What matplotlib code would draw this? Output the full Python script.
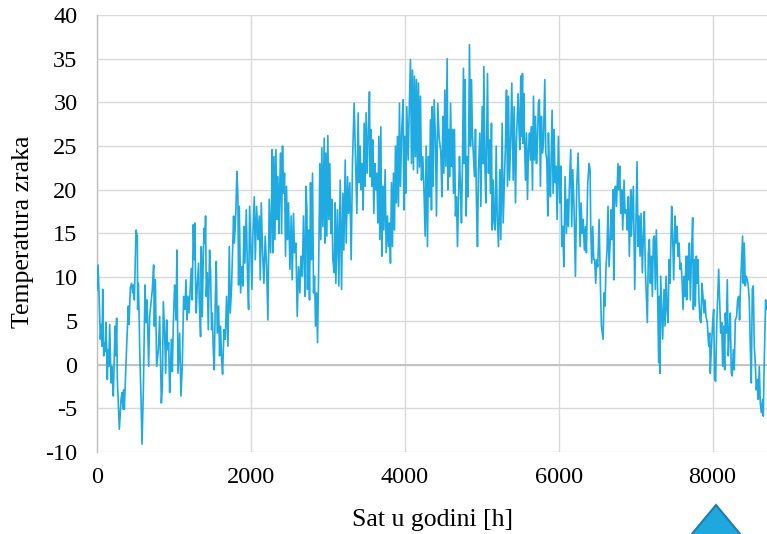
import matplotlib
matplotlib.use('Agg')
import matplotlib.pyplot as plt
from matplotlib.patches import Polygon


## Hourly air temperature over the year, kept as (hour, deg C) turning points

seg_jan_feb = [(0, 8.5), (13, 11.4), (26, 8.2), (43, 2.9), (56, 4.6), (65, 2.1), (74, 8.6), (87, 1.0),
               (100, 2.5), (108, 1.5), (117, 4.8), (134, -1.7), (143, 1.7), (152, -0.2), (165, 4.6),
               (182, -2.1), (191, -0.2), (199, -1.7), (212, -3.6), (234, 4.4), (242, 1.0), (255, 5.3),
               (264, -1.7), (290, -7.4), (312, -4.0), (325, -3.2), (338, -5.1), (346, -2.9), (355, -5.1),
               (385, 2.1), (407, 6.7), (416, 4.6), (433, 8.8), (450, 9.3), (463, 8.2), (476, 9.1),
               (485, 7.4), (507, 15.4), (524, 14.7), (528, 6.3), (537, 9.3), (546, 6.3), (554, 2.1),
               (572, -4.0), (585, -9.1), (602, -3.0), (624, 9.1), (636, 4.8), (650, 7.4), (671, -0.2),
               (684, 5.5), (701, 7.0), (719, 8.6), (736, 11.4), (745, 4.4), (758, 9.7), (775, -0.2),
               (797, 1.7), (814, 5.5), (836, -4.4), (849, -2.5), (862, 7.2), (879, 3.6), (892, -1.0),
               (905, 5.1), (918, 1.7), (931, 2.5), (944, -3.2), (953, -1.0), (966, 2.9), (979, -0.8),
               (992, 4.8), (1009, 9.1), (1018, 7.8), (1026, 5.1), (1039, 13.1), (1052, -1.0),
               (1074, 3.6), (1091, -3.6), (1108, -0.2), (1126, 7.8)]

seg_feb_mar = [(1143, 6.3), (1156, 9.7), (1169, 5.1), (1182, 7.8), (1195, 5.9), (1208, 8.2), (1225, 11.0),
               (1238, 7.4), (1251, 16.0), (1264, 12.0), (1273, 16.2), (1282, 8.2), (1290, 5.9),
               (1303, 9.1), (1320, 11.6), (1329, 7.4), (1346, 3.2), (1355, 13.5), (1368, 5.5),
               (1381, 12.4), (1394, 15.6), (1403, 13.9), (1411, 17.0), (1420, 7.8), (1433, 10.5),
               (1446, 4.0), (1463, 13.1), (1476, 10.5), (1489, 4.0), (1498, 5.9), (1511, 1.7),
               (1524, -0.6), (1537, 7.4), (1550, 11.8), (1563, 3.6), (1580, 6.7), (1593, 1.0),
               (1606, 4.4), (1619, 0.6), (1632, -1.1), (1650, 4.0), (1667, 2.9), (1684, 7.8),
               (1702, 2.1), (1719, 13.5), (1732, 5.9), (1749, 9.0), (1762, 13.1), (1775, 17.0),
               (1784, 13.9), (1797, 15.8), (1805, 17.7), (1818, 22.1), (1831, 19.2), (1840, 9.1),
               (1849, 18.1), (1866, 8.2), (1883, 11.2), (1896, 9.0), (1909, 15.8), (1922, 11.6),
               (1940, 17.7), (1957, 9.7), (1970, 6.3), (1983, 18.1), (2000, 13.1), (2013, 8.6),
               (2026, 15.0), (2044, 19.2), (2057, 12.0), (2074, 18.1), (2091, 14.3), (2109, 17.0),
               (2122, 9.7), (2135, 18.5), (2152, 12.8), (2169, 9.3), (2186, 14.7), (2204, 11.2),
               (2221, 5.1), (2238, 18.9)]

seg_apr_may = [(2256, 12.8), (2269, 18.9), (2277, 24.6), (2286, 12.8), (2299, 23.8), (2312, 14.3),
               (2325, 24.6), (2338, 16.6), (2351, 21.5), (2364, 15.0), (2373, 19.6), (2386, 24.2),
               (2399, 15.0), (2411, 25.0), (2424, 19.6), (2437, 21.9), (2450, 12.4), (2463, 20.4),
               (2476, 14.3), (2489, 18.5), (2507, 10.9), (2524, 17.0), (2537, 9.7), (2554, 17.3),
               (2567, 12.8), (2585, 13.9), (2602, 5.5), (2619, 11.2), (2637, 8.2), (2650, 12.4),
               (2667, 10.1), (2684, 17.0), (2697, 10.5), (2706, 7.8), (2715, 20.4), (2728, 17.7),
               (2736, 8.6), (2749, 15.4), (2762, 7.4), (2775, 20.8), (2788, 12.0), (2801, 21.9),
               (2814, 8.2), (2827, 10.1), (2840, 4.4), (2853, 8.2), (2866, 2.5), (2879, 9.7),
               (2896, 23.0), (2909, 14.3), (2922, 24.8), (2935, 15.8), (2953, 25.9), (2961, 13.9),
               (2974, 24.2), (2987, 14.7), (3000, 26.2), (3013, 16.6), (3026, 23.0), (3039, 15.0),
               (3052, 18.9), (3065, 12.0), (3083, 10.5), (3096, 18.5), (3104, 9.3), (3126, 17.7),
               (3143, 9.0), (3161, 21.1), (3178, 8.6), (3195, 19.6), (3208, 13.1), (3226, 23.4),
               (3239, 13.9), (3256, 21.5), (3269, 17.3), (3286, 20.8), (3303, 12.0), (3321, 23.4),
               (3342, 29.9)]

seg_may_jul = [(3364, 21.9), (3377, 17.3), (3394, 28.8), (3407, 20.8), (3420, 25.0), (3433, 20.0),
               (3446, 23.0), (3459, 17.7), (3472, 27.6), (3485, 20.4), (3498, 28.8), (3511, 21.9),
               (3528, 26.9), (3541, 31.2), (3550, 21.5), (3563, 26.9), (3572, 20.4), (3585, 25.7),
               (3598, 17.3), (3611, 23.0), (3624, 20.0), (3637, 21.9), (3650, 16.2), (3663, 26.1),
               (3676, 14.3), (3689, 27.2), (3702, 12.4), (3715, 20.4), (3728, 15.4), (3745, 22.3),
               (3758, 12.8), (3775, 17.0), (3788, 13.5), (3801, 16.2), (3814, 11.6), (3827, 20.8),
               (3840, 13.5), (3853, 21.9), (3866, 15.4), (3879, 25.0), (3892, 18.5), (3905, 26.1),
               (3918, 18.1), (3931, 29.9), (3944, 20.4), (3961, 26.9), (3979, 30.3), (3987, 17.7),
               (4000, 26.1), (4013, 19.6), (4026, 29.5), (4044, 23.4), (4057, 28.8), (4074, 34.9),
               (4087, 23.0), (4100, 33.7), (4113, 22.3), (4126, 33.0), (4139, 23.8), (4152, 32.6),
               (4165, 21.9), (4178, 32.2), (4191, 22.6), (4204, 30.7), (4217, 21.1), (4234, 23.8),
               (4247, 20.8), (4265, 14.7), (4278, 25.0), (4295, 13.5), (4308, 23.8), (4321, 19.2),
               (4334, 28.0), (4347, 17.7), (4356, 29.5), (4369, 20.4), (4382, 30.3), (4399, 25.7),
               (4412, 17.0), (4429, 29.9), (4446, 26.1)]

seg_jul_aug = [(4469, 24.2), (4482, 19.2), (4495, 28.4), (4508, 21.9), (4521, 31.4), (4534, 22.7),
               (4551, 35.0), (4560, 20.0), (4573, 26.9), (4582, 21.5), (4595, 29.9), (4608, 22.7),
               (4620, 26.9), (4633, 19.6), (4646, 26.9), (4659, 17.0), (4672, 19.2), (4685, 13.5),
               (4698, 18.5), (4711, 23.8), (4724, 20.4), (4737, 16.2), (4750, 23.0), (4763, 33.9),
               (4772, 23.0), (4785, 32.6), (4798, 17.0), (4811, 23.8), (4824, 19.2), (4841, 36.6),
               (4854, 25.0), (4867, 32.6), (4880, 26.1), (4893, 23.8), (4906, 21.5), (4919, 26.9),
               (4932, 18.5), (4945, 13.5), (4958, 22.3), (4976, 26.5), (4989, 18.1), (5006, 29.5),
               (5019, 23.0), (5028, 34.1), (5041, 23.0), (5053, 18.5), (5066, 26.9), (5075, 33.3),
               (5088, 21.9), (5101, 25.7), (5114, 19.6), (5127, 27.6), (5136, 15.4), (5149, 21.1),
               (5162, 16.2), (5175, 15.4), (5188, 25.0), (5201, 17.0), (5218, 13.5), (5235, 22.3),
               (5248, 14.3), (5266, 27.6), (5279, 16.2), (5296, 21.5), (5309, 25.3), (5322, 31.4),
               (5335, 20.4), (5348, 30.7), (5361, 21.1), (5378, 26.1), (5391, 32.2), (5409, 21.1),
               (5422, 29.5), (5439, 18.5), (5452, 25.7), (5473, 31.0), (5487, 26.5)]

seg_aug_oct = [(5495, 24.6), (5508, 33.0), (5517, 26.1), (5530, 33.3), (5538, 25.3), (5547, 31.0),
               (5556, 25.7), (5569, 21.1), (5582, 26.5), (5595, 18.9), (5608, 24.6), (5621, 26.5),
               (5634, 23.4), (5647, 27.2), (5660, 20.0), (5673, 30.7), (5686, 23.4), (5699, 28.4),
               (5712, 23.0), (5724, 25.3), (5737, 29.9), (5750, 30.3), (5763, 20.4), (5776, 28.4),
               (5789, 24.2), (5802, 25.3), (5820, 32.6), (5833, 24.2), (5846, 23.4), (5859, 17.0),
               (5867, 26.5), (5880, 21.9), (5893, 19.2), (5915, 29.1), (5928, 19.6), (5941, 26.9),
               (5954, 20.8), (5967, 22.7), (5980, 16.6), (5997, 26.1), (6015, 18.5), (6028, 22.7),
               (6041, 13.5), (6054, 15.8), (6067, 11.2), (6084, 21.5), (6101, 15.0), (6114, 18.9),
               (6127, 15.8), (6140, 20.4), (6157, 24.6), (6170, 15.8), (6183, 22.3), (6201, 17.7),
               (6218, 10.1), (6235, 20.4), (6253, 24.2), (6266, 18.9), (6279, 13.5), (6292, 18.5),
               (6305, 15.0), (6318, 16.6), (6335, 13.1), (6348, 15.8), (6361, 12.8), (6378, 20.8),
               (6396, 23.0), (6409, 22.3), (6417, 15.8), (6430, 11.6), (6443, 15.8), (6456, 12.0),
               (6469, 12.0), (6482, 9.3), (6495, 12.0), (6508, 11.2), (6526, 16.6), (6543, 9.0),
               (6556, 4.4), (6578, 2.9), (6590, 8.2), (6603, 6.7), (6616, 11.2), (6629, 13.1),
               (6642, 18.1), (6655, 11.2)]

seg_oct_nov = [(6673, 14.7), (6681, 17.7), (6694, 14.3), (6707, 20.0), (6716, 9.7), (6725, 19.2),
               (6738, 20.4), (6751, 18.1), (6772, 23.0), (6781, 20.0), (6794, 22.7), (6807, 17.3),
               (6820, 20.0), (6833, 15.4), (6850, 21.1), (6863, 17.3), (6880, 17.7), (6893, 15.4),
               (6906, 19.2), (6919, 12.4), (6937, 20.0), (6945, 14.7), (6971, 20.4), (6989, 8.6),
               (7006, 17.0), (7019, 23.2), (7032, 13.5), (7045, 17.0), (7058, 12.4), (7071, 17.3),
               (7088, 10.5), (7101, 14.7), (7114, 17.5), (7127, 10.9), (7140, 7.8), (7153, 4.8),
               (7166, 12.8), (7179, 14.3), (7192, 9.3), (7205, 12.4), (7218, 7.8), (7231, 14.3),
               (7244, 14.7), (7257, 8.6), (7270, 15.4), (7283, 10.1), (7300, 0.2), (7309, 7.8),
               (7318, -1.0), (7326, 10.1), (7339, 6.3), (7352, 2.9), (7370, 8.6), (7383, 4.4),
               (7396, 10.1), (7409, 6.3), (7422, 4.8), (7435, 12.0), (7448, 9.3), (7469, 18.1),
               (7482, 14.7), (7495, 9.7), (7513, 17.0), (7526, 13.9), (7539, 15.8), (7552, 12.4),
               (7565, 13.9), (7578, 10.9), (7591, 11.6), (7604, 9.7), (7617, 6.3), (7630, 10.1),
               (7643, 7.8), (7656, 12.4)]

seg_nov_dec = [(7664, 7.4), (7677, 12.4), (7690, 9.7), (7699, 13.9), (7712, 7.4), (7725, 12.0),
               (7742, 16.8), (7751, 6.3), (7764, 12.0), (7777, 6.7), (7790, 12.4), (7798, 9.3),
               (7811, 12.0), (7824, 7.4), (7837, 5.1), (7850, 4.8), (7863, 9.3), (7876, 7.8),
               (7889, 5.9), (7902, 7.4), (7915, 5.5), (7932, 4.8), (7950, 2.1), (7963, 3.6),
               (7971, -1.0), (7984, 1.7), (8002, 4.8), (8015, 6.3), (8028, -1.7), (8041, -1.9),
               (8054, 4.4), (8080, 10.9), (8093, 7.4), (8106, 3.6), (8119, 4.8), (8132, -0.2),
               (8145, 4.4), (8158, -0.6), (8166, 5.9), (8179, 3.6), (8192, 9.7), (8205, 1.0),
               (8218, 3.6), (8231, 5.9), (8244, -1.0), (8257, -1.3), (8270, 1.7), (8283, -0.6),
               (8296, 5.1), (8313, 5.5), (8326, 7.4), (8339, 7.8), (8352, 5.1), (8365, 9.3),
               (8378, 12.0), (8391, 14.7), (8400, 9.3), (8413, 13.9), (8426, 9.0), (8439, 10.1),
               (8452, 9.7), (8465, 9.0), (8478, 7.4), (8491, 2.1), (8504, -2.1), (8517, 8.6),
               (8530, 9.0), (8543, 2.1), (8556, 0.2), (8569, -2.9), (8582, -1.7), (8595, -4.0),
               (8608, -0.2), (8621, -4.4), (8634, -5.5), (8651, -4.0), (8660, -5.9), (8669, -1.0),
               (8682, 4.4), (8690, 7.4), (8699, 6.3)]

x_ticks = [0, 2000, 4000, 6000, 8000]
y_ticks = [-10, -5, 0, 5, 10, 15, 20, 25, 30, 35, 40]


## Join the segments into one series

hours = []
temps = []
for seg in [seg_jan_feb, seg_feb_mar, seg_apr_may, seg_may_jul,
            seg_jul_aug, seg_aug_oct, seg_oct_nov, seg_nov_dec]:
    for h, t in seg:
        hours.append(h)
        temps.append(t)


## Plot

plt.rcParams['font.family'] = ['Liberation Serif', 'DejaVu Serif']
plt.rcParams['axes.unicode_minus'] = False

fig = plt.figure(figsize=(7.67, 5.34), dpi=100)
ax = fig.add_axes([0.1265, 0.1536, 0.8787, 0.8184])

ax.plot(hours, temps, color='#1FAAE1', lw=1.2, zorder=3)
ax.axhline(0, color='#BFBFBF', lw=1.3, zorder=2)

ax.set_xlim(0, 8760)
ax.set_ylim(-10, 40)
ax.set_xticks(x_ticks)
ax.set_yticks(y_ticks)
ax.grid(True, color='#D9D9D9', lw=1.0, zorder=0)
ax.set_axisbelow(True)

for side in ['top', 'right', 'bottom']:
    ax.spines[side].set_visible(False)
ax.spines['left'].set_color('#BFBFBF')
ax.spines['left'].set_linewidth(1.0)

ax.tick_params(axis='both', length=0, labelsize=17.5)
ax.tick_params(axis='x', pad=10.5)
ax.tick_params(axis='y', pad=14)

fig.text(433 / 767, 1 - 520 / 534, 'Sat u godini [h]', fontsize=18.5,
         ha='center', va='center')
fig.text(23 / 767, 1 - 232 / 534, 'Temperatura zraka', fontsize=18.5,
         ha='center', va='center', rotation=90)

# small marker triangle at the bottom edge
tri = Polygon([(716 / 767, 1 - 505 / 534), (683 / 767, -0.02), (749 / 767, -0.02)],
              closed=True, transform=fig.transFigure, facecolor='#1EA8DE',
              edgecolor='#1B7FAE', lw=1.5, clip_on=False)
fig.patches.append(tri)

plt.savefig('out.png', dpi=100)
